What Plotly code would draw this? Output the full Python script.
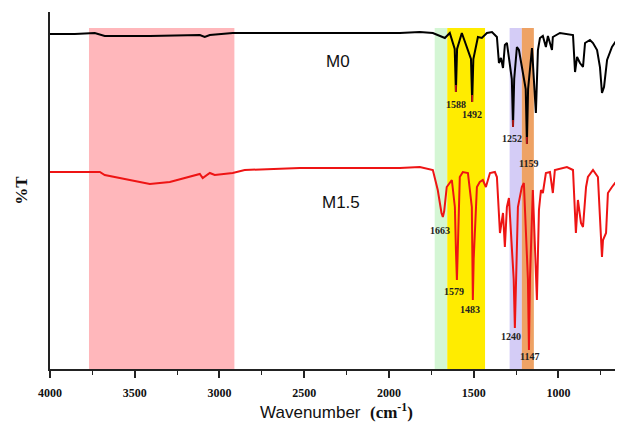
import plotly.graph_objects as go

# ---- data (wavenumber in cm-1, transmittance in arbitrary offset units) ----
m0_wn = [4000, 3854, 3736, 3677, 3411, 3116, 3087, 3057, 2922, 2526, 1936, 1818, 1741, 1670, 1641,
         1612, 1605, 1598, 1570, 1516, 1509, 1502, 1475, 1452, 1422, 1392, 1363, 1351, 1339, 1327, 1316, 1304,
         1275, 1268, 1261, 1245, 1233, 1193, 1186, 1179, 1156, 1133, 1121, 1109, 1092, 1074, 1062, 1038, 1033,
         991, 914, 902, 890, 873, 855, 843, 814, 796, 772, 755, 743, 731, 713, 684, 654, 625]
m0_t = [335, 335, 336, 333, 333, 334, 332, 334, 336, 336, 336, 337, 336, 331, 336,
        320, 277, 320, 336, 310, 267, 310, 332, 331, 336, 337, 332, 306, 311, 301, 324, 326,
        290, 242, 290, 322, 319, 280, 225, 280, 321, 256, 319, 331, 333, 322, 333, 319, 332,
        336, 334, 297, 312, 306, 302, 326, 329, 326, 319, 302, 276, 282, 309, 322, 329, 337]

m15_wn = [4000, 3706, 3677, 3529, 3411, 3293, 3116, 3099, 3057, 3028, 2922, 2851, 2526, 1936, 1818,
          1741, 1712, 1690, 1682, 1674, 1659, 1629, 1611, 1605, 1599, 1592, 1582, 1564, 1534, 1511, 1508, 1505,
          1500, 1481, 1464, 1446, 1428, 1404, 1375, 1363, 1345, 1327, 1316, 1304, 1292, 1264, 1257, 1250, 1239,
          1216, 1204, 1180, 1174, 1168, 1151, 1127, 1115, 1103, 1092, 1074, 1050, 1033, 1021, 950, 914, 897,
          885, 867, 855, 837, 826, 796, 767, 743, 737, 719, 708, 684, 666, 637, 619]
m15_t = [197, 197, 194, 189, 185, 187, 195, 191, 196, 194, 196, 199, 201, 201, 202,
         199, 179, 156, 152, 158, 182, 189, 162, 120, 89, 130, 192, 197, 196, 162, 100, 69,
         110, 182, 187, 189, 182, 196, 197, 192, 136, 156, 122, 162, 171, 90, 41, 90, 162,
         182, 186, 90, 19, 90, 179, 69, 159, 179, 176, 196, 197, 176, 199, 202, 199, 136,
         169, 146, 142, 182, 192, 199, 192, 112, 129, 136, 176, 182, 186, 189, 191]

band_start = [3770, 1730, 1656, 1288, 1216]
band_end = [2912, 1656, 1433, 1216, 1145]
band_colors = ["rgb(255,183,187)", "rgb(212,246,212)", "rgb(255,236,0)", "rgb(212,204,246)", "rgb(238,162,100)"]
band_top = 341

# M0 peak tips (marked red in the figure)
m0_tip_x = [1605, 1509, 1268, 1186]
m0_tip_y = [277, 267, 242, 225]

m0_peak_labels = ["1588", "1492", "1252", "1159"]
m0_peak_x = [1605, 1510, 1274, 1174]
m0_peak_y = [265, 255, 231, 206]
m15_peak_labels = ["1663", "1579", "1483", "1240", "1147"]
m15_peak_x = [1700, 1617, 1522, 1280, 1168]
m15_peak_y = [139, 78, 60, 33, 13]

x_ticks = [4000, 3500, 3000, 2500, 2000, 1500, 1000]

fig = go.Figure()
for s, e, c in zip(band_start, band_end, band_colors):
    fig.add_shape(type="rect", xref="x", yref="y", x0=s, x1=e, y0=0, y1=band_top,
                  fillcolor=c, line_width=0, layer="below")

fig.add_trace(go.Scatter(x=m0_wn, y=m0_t, mode="lines", line=dict(color="black", width=2),
                         showlegend=False, hoverinfo="skip"))
fig.add_trace(go.Scatter(x=m15_wn, y=m15_t, mode="lines", line=dict(color="rgb(238,20,20)", width=2),
                         showlegend=False, hoverinfo="skip"))

tip_x, tip_y = [], []
for x, y in zip(m0_tip_x, m0_tip_y):
    tip_x += [x, x, None]
    tip_y += [y, y + 7, None]
fig.add_trace(go.Scatter(x=tip_x, y=tip_y, mode="lines", line=dict(color="rgb(220,30,30)", width=1.5),
                         showlegend=False, hoverinfo="skip"))

for lab, x, y in zip(m0_peak_labels + m15_peak_labels, m0_peak_x + m15_peak_x, m0_peak_y + m15_peak_y):
    fig.add_annotation(x=x, y=y, text="<b>%s</b>" % lab, showarrow=False,
                       font=dict(family="Liberation Serif", size=10, color="#222"))

fig.add_annotation(x=2300, y=308, text="M0", showarrow=False,
                   font=dict(family="Liberation Sans", size=17, color="#111"))
fig.add_annotation(x=2285, y=167, text="M1.5", showarrow=False,
                   font=dict(family="Liberation Sans", size=17, color="#111"))

# the page body has an 8px margin, so the figure is 8px smaller and margins shifted
fig.update_layout(
    width=615, height=419,
    margin=dict(l=42, r=0, t=4, b=58),
    paper_bgcolor="white", plot_bgcolor="white",
    xaxis=dict(range=[4000, 619], tickmode="array", tickvals=x_ticks, automargin=False,
               ticktext=["<b>%d</b>" % v for v in x_ticks], ticklabelstandoff=5,
               ticks="outside", ticklen=7, tickwidth=1.5, tickcolor="#222",
               minor=dict(tickmode="linear", tick0=0, dtick=250, ticks="outside", ticklen=4, tickcolor="#222", tickwidth=1.2),
               showline=True, linecolor="#222", linewidth=1.5, showgrid=False, zeroline=False,
               tickfont=dict(family="Liberation Serif", size=12, color="#111"),
               title=dict(text="Wavenumber  <span style='font-family:Liberation Serif'><b>(cm<sup>-1</sup>)</b></span>",
                          font=dict(family="Liberation Sans", size=17, color="#111"), standoff=4)),
    yaxis=dict(range=[0, 357], showticklabels=False, ticks="", showline=True, linecolor="#222",
               linewidth=1.5, showgrid=False, zeroline=False, automargin=False,
               title=dict(text="<b>%T</b>", font=dict(family="Liberation Serif", size=17, color="#111"), standoff=16)),
)

fig.write_html("out.html")
